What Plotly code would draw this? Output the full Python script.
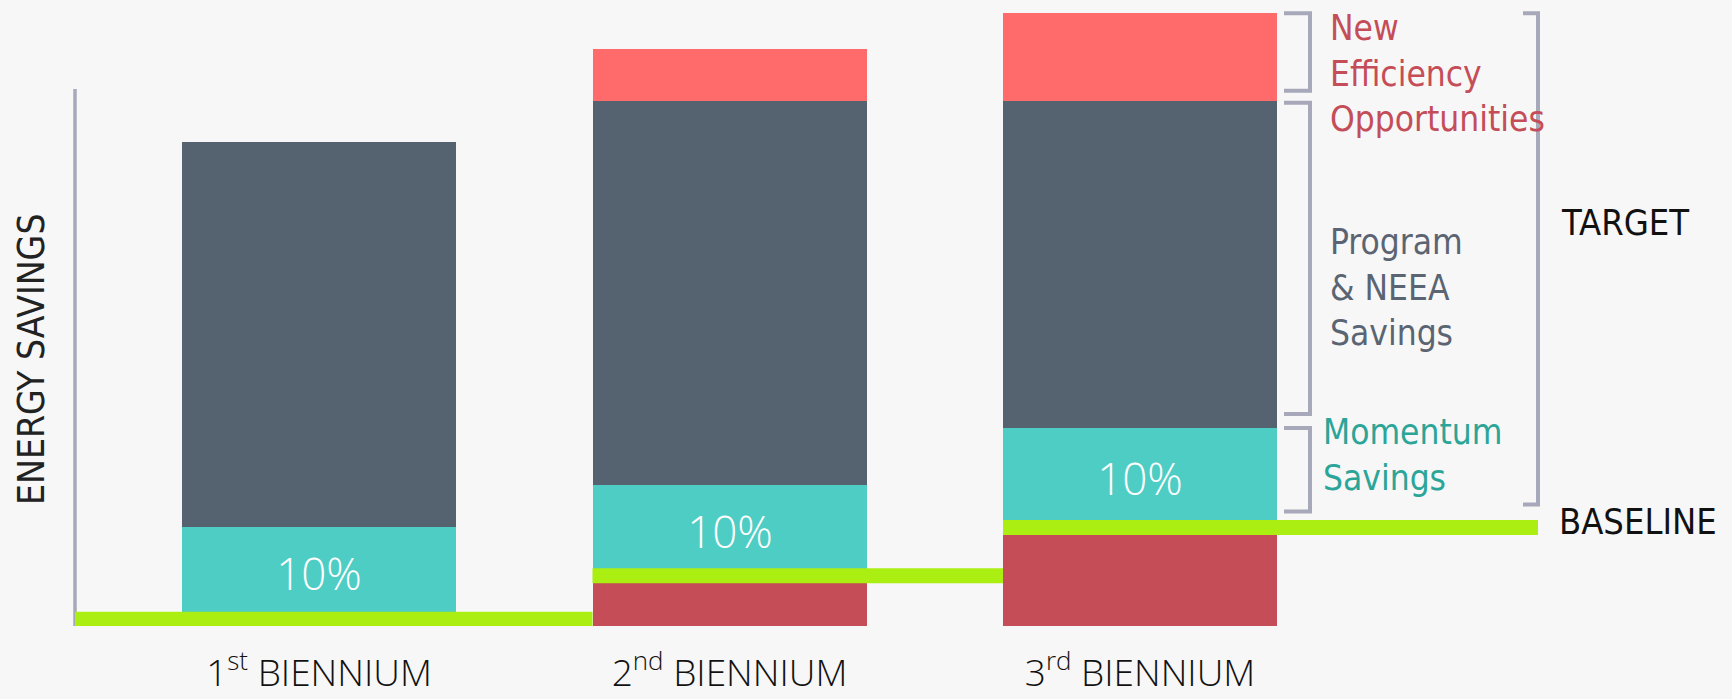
import plotly.graph_objects as go

# ---------------- data ----------------
categories = ["1<sup>st</sup> BIENNIUM", "2<sup>nd</sup> BIENNIUM", "3<sup>rd</sup> BIENNIUM"]
x_pos = [0, 1, 2]
baseline = [0.8, 5.9, 11.6]          # prior savings below the baseline (dark red)
momentum = [10.9, 10.7, 11.7]        # momentum savings (teal)
program = [45.2, 45.2, 38.5]         # program & NEEA savings (slate)
new_eff = [0.0, 6.1, 10.3]           # new efficiency opportunities (coral)
momentum_labels = ["10%", "10%", "10%"]

# ---------------- styling ----------------
C_DARK = "#556270"
C_TEAL = "#4ECDC4"
C_CORAL = "#FF6B6B"
C_RED = "#C44D58"
C_GREEN = "#AAEE12"
C_BRACKET = "#A7A8BA"
BG = "#F7F7F7"
NARROW = "DejaVu Sans, sans-serif"
LIGHT = "Open Sans, Segoe UI, sans-serif"

W, H = 1732, 699
M_B = 73
PLOT_H = H - M_B
PX_Y = 8.5                 # pixels per y unit
PX_X = 410.5               # pixels per category step
X0_PX = 319                # pixel of first category centre
BAR_W = 0.6675
x_range = [-X0_PX / PX_X, (W - X0_PX) / PX_X]
y_range = [0, PLOT_H / PX_Y]

def px_to_x(px):
    return (px - X0_PX) / PX_X

def dy(px):
    return px / PX_Y

def dx(px):
    return px / PX_X

fig = go.Figure()

fig.add_trace(go.Bar(x=x_pos, y=baseline, width=BAR_W, marker=dict(color=C_RED, line=dict(width=0)),
                     name="Prior savings"))
fig.add_trace(go.Bar(x=x_pos, y=momentum, width=BAR_W, marker=dict(color=C_TEAL, line=dict(width=0)),
                     text=momentum_labels, textposition="inside", insidetextanchor="middle",
                     textangle=0, constraintext="none",
                     insidetextfont=dict(color="white", size=44, family=LIGHT, weight=300),
                     name="Momentum Savings"))
fig.add_trace(go.Bar(x=x_pos, y=program, width=BAR_W, marker=dict(color=C_DARK, line=dict(width=0)),
                     name="Program & NEEA Savings"))
fig.add_trace(go.Bar(x=x_pos, y=new_eff, width=BAR_W, marker=dict(color=C_CORAL, line=dict(width=0)),
                     name="New Efficiency Opportunities"))

# y-axis line (drawn from the axis origin)
axis_x = px_to_x(75)
fig.add_trace(go.Scatter(x=[axis_x, axis_x], y=[0, dy(PLOT_H - 89)], mode="lines",
                         line=dict(color=C_BRACKET, width=3.5), hoverinfo="skip"))

# baseline steps
n = len(x_pos)
end_x = px_to_x(1538)
for i in range(n):
    xs = axis_x if i == 0 else x_pos[i] - BAR_W / 2
    xe = (x_pos[i + 1] - BAR_W / 2) if i < n - 1 else end_x
    fig.add_trace(go.Scatter(x=[xs, xe], y=[baseline[i], baseline[i]], mode="lines",
                             line=dict(color=C_GREEN, width=15), hoverinfo="skip"))

# brackets next to the last bar
k = n - 1
b0 = baseline[k]
t1 = b0 + momentum[k]
t2 = t1 + program[k]
t3 = t2 + new_eff[k]
bx0 = x_pos[k] + BAR_W / 2 + dx(7)
bx1 = x_pos[k] + BAR_W / 2 + dx(33)

def bracket(xl, xr, ytop, ybot):
    fig.add_trace(go.Scatter(x=[xl, xr, xr, xl], y=[ytop, ytop, ybot, ybot], mode="lines",
                             line=dict(color=C_BRACKET, width=4), hoverinfo="skip"))

bracket(bx0, bx1, t3, t2 + dy(10))
bracket(bx0, bx1, t2 - dy(2), t1 + dy(14))
bracket(bx0, bx1, t1, b0 + dy(16))
bracket(px_to_x(1523), end_x, t3, b0 + dy(23))

# labels
def label(text, xpx, ypx, color, size=35, anchor="left", angle=0, family=NARROW):
    fig.add_annotation(x=px_to_x(xpx), y=dy(PLOT_H - ypx), text=text, showarrow=False,
                       xanchor=anchor, yanchor="middle", textangle=angle, align="left",
                       font=dict(family=family, size=size, color=color))

label("New<br>Efficiency<br>Opportunities", 1328, 73, C_RED)
label("Program<br>&amp; NEEA<br>Savings", 1328, 287, "#5A6472")
label("Momentum<br>Savings", 1321, 455, "#2BA597")
label("TARGET", 1559, 222, "#111111", size=36)
label("BASELINE", 1557, 521, "#111111", size=36)
label("ENERGY SAVINGS", 31, 343, "#222222", size=37, anchor="center", angle=-90)

fig.update_layout(
    width=W, height=H, autosize=False,
    margin=dict(l=0, r=0, t=0, b=M_B, pad=0),
    paper_bgcolor=BG, plot_bgcolor=BG,
    barmode="stack", bargap=0, showlegend=False, hovermode=False,
    xaxis=dict(range=x_range, tickmode="array", tickvals=x_pos, ticktext=categories,
               showgrid=False, zeroline=False, showline=False, ticks="", automargin=False,
               tickfont=dict(family=LIGHT, size=37, color="#111111", weight=300),
               ticklabelstandoff=22, fixedrange=True),
    yaxis=dict(range=y_range, visible=False, fixedrange=True, automargin=False),
)

post = (
    "document.body.style.margin='0px';document.body.style.overflow='hidden';"
    "document.querySelectorAll('.annotation-text').forEach(function(e){e.style.fontStretch='condensed';});"
)
fig.write_html("out.html", post_script=post, config={"displayModeBar": False})
